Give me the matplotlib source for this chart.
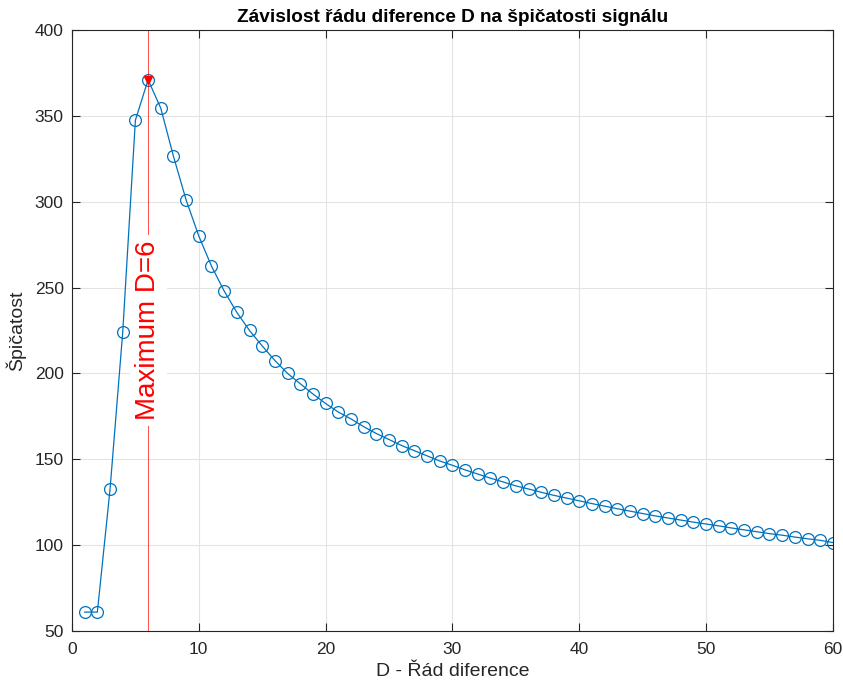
import matplotlib.pyplot as plt
import numpy as np

plt.rcParams['font.family'] = ['Liberation Sans', 'DejaVu Sans']

# rad diference D a spicatost
D = np.arange(1, 61)
spicatost = [61, 61, 132.5, 224, 347.5, 371, 354.5, 326.5, 301, 280,
             262.5, 248, 235.5, 225, 216, 207.5, 200, 194, 188, 182.5,
             177.5, 173.5, 169, 165, 161.5, 158, 155, 152, 149, 146.5,
             143.8, 141.4, 139, 136.8, 134.5, 132.7, 130.8, 129, 127.4, 125.8,
             124.2, 122.7, 121.2, 119.8, 118.4, 117, 115.8, 114.6, 113.4, 112.3,
             111.2, 110, 108.9, 107.8, 106.7, 105.8, 104.7, 103.7, 102.8, 101.5]
D_max = 6
s_max = 371

fig = plt.figure(figsize=(8.43, 6.82), dpi=100)
ax = fig.add_axes([0.0854, 0.0748, 0.9026, 0.8812])

ax.plot(D, spicatost, '-o', color='#0072BD', lw=0.9, markersize=8.5,
        markerfacecolor='none', markeredgewidth=0.9)
ax.axvline(D_max, color='red', lw=0.6, alpha=0.8)
ax.plot(D_max, s_max, 'v', color='red', markersize=6, markeredgewidth=1)
ax.text(D_max, 225, 'Maximum D=6', rotation=90, color='red', fontsize=20,
        ha='center', va='center',
        bbox=dict(facecolor='white', edgecolor='none', pad=4))

ax.set_xlim(0, 60)
ax.set_ylim(50, 400)
ax.set_xticks(np.arange(0, 61, 10))
ax.set_yticks(np.arange(50, 401, 50))
ax.grid(True, color='#e3e3e3', lw=0.8)
ax.set_axisbelow(True)
ax.tick_params(direction='in', top=True, right=True, labelsize=12.5, labelcolor='#262626',
               color='#262626', length=6, pad=6)
ax.tick_params(axis='x', pad=8)
for sp in ax.spines.values():
    sp.set_color('#262626')
    sp.set_linewidth(0.8)

ax.set_xlabel('D - Řád diference', fontsize=14, color='#262626', labelpad=4)
ax.set_ylabel('Špičatost', fontsize=14, color='#262626', labelpad=6)
ax.set_title('Závislost řádu diference D na špičatosti signálu', fontsize=13.7, fontweight='bold', pad=6)

fig.savefig('out.png', dpi=100)
